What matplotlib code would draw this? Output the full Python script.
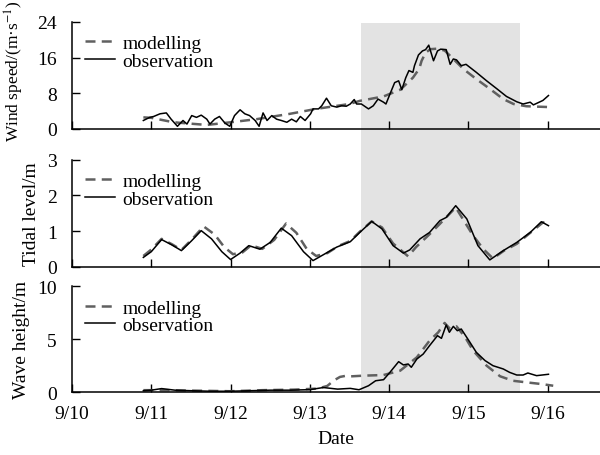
import numpy as np
import matplotlib
matplotlib.use("Agg")
import matplotlib.pyplot as plt
from matplotlib.patches import Rectangle
from matplotlib.transforms import blended_transform_factory

plt.rcParams['font.family'] = ['Liberation Serif', 'DejaVu Serif']
plt.rcParams['mathtext.fontset'] = 'stix'

# x values are day of September (10.0 = 9/10 00:00)
day_labels = ['9/10', '9/11', '9/12', '9/13', '9/14', '9/15', '9/16']
day_ticks = [10, 11, 12, 13, 14, 15, 16]
storm_start, storm_end = 13.64, 15.65

# wind speed
wind_obs_x = [10.90, 10.98, 11.03, 11.11, 11.19, 11.25, 11.33, 11.40, 11.45, 11.51, 11.57,
              11.63, 11.70, 11.74, 11.80, 11.86, 11.93, 11.99, 12.05, 12.12, 12.18, 12.24,
              12.31, 12.36, 12.41, 12.46, 12.52, 12.58, 12.64, 12.71, 12.77, 12.83, 12.88,
              12.94, 13.01, 13.04, 13.11, 13.15, 13.21, 13.27, 13.34, 13.40, 13.46, 13.51,
              13.56, 13.59, 13.65, 13.74, 13.80, 13.86, 13.93, 13.96, 14.01, 14.07, 14.12,
              14.16, 14.21, 14.25, 14.30, 14.32, 14.37, 14.42, 14.46, 14.50, 14.56, 14.61,
              14.65, 14.72, 14.77, 14.81, 14.85, 14.91, 14.97, 15.10, 15.23, 15.36, 15.48,
              15.61, 15.69, 15.78, 15.82, 15.88, 15.94, 16.01]
wind_obs = [1.9, 2.6, 2.8, 3.4, 3.6, 2.2, 0.6, 1.9, 1.1, 3.0, 2.6,
            3.1, 2.2, 1.1, 2.2, 2.8, 1.3, 0.6, 3.0, 4.3, 3.4, 3.0,
            1.9, 0.6, 3.6, 1.9, 3.0, 2.2, 1.9, 1.5, 2.2, 1.6, 2.8,
            1.9, 3.4, 4.5, 4.5, 5.2, 6.9, 5.2, 4.9, 5.2, 5.1, 5.6,
            6.6, 5.6, 5.6, 4.5, 5.2, 6.7, 6.0, 5.6, 7.8, 10.4, 10.8,
            8.8, 11.5, 13.1, 12.7, 14.2, 16.6, 17.5, 17.8, 18.8, 15.3, 17.5,
            17.9, 17.8, 14.5, 15.7, 15.5, 14.2, 14.5, 12.7, 10.8, 9.0, 7.3,
            6.1, 5.6, 6.0, 5.4, 5.9, 6.4, 7.5]
wind_mod_x = [10.90, 11.00, 11.28, 11.70, 12.00, 12.33, 12.75, 13.08, 13.50, 13.63, 13.93,
              14.14, 14.30, 14.38, 14.41, 14.46, 14.52, 14.60, 14.70, 14.77, 14.94, 15.10,
              15.27, 15.44, 15.57, 15.73, 16.03]
wind_mod = [2.6, 2.5, 1.5, 0.9, 1.5, 2.2, 3.4, 4.5, 5.6, 6.3, 7.3,
            8.8, 11.5, 13.5, 15.3, 17.1, 17.9, 18.0, 17.6, 16.4, 13.4, 11.2,
            9.0, 6.7, 5.6, 5.1, 4.9]

# tidal level
tide_obs_x = [10.90, 11.00, 11.13, 11.26, 11.38, 11.51, 11.63, 11.76, 11.89, 12.00, 12.12,
              12.23, 12.37, 12.50, 12.64, 12.77, 12.92, 13.04, 13.19, 13.34, 13.51, 13.63,
              13.78, 13.91, 14.05, 14.18, 14.26, 14.39, 14.51, 14.64, 14.72, 14.84, 14.98,
              15.12, 15.27, 15.44, 15.61, 15.78, 15.92, 16.01]
tide_obs = [0.26, 0.42, 0.76, 0.61, 0.45, 0.73, 1.01, 0.78, 0.42, 0.20, 0.38,
            0.59, 0.49, 0.68, 1.08, 0.87, 0.42, 0.17, 0.36, 0.55, 0.70, 0.96,
            1.27, 1.06, 0.59, 0.38, 0.47, 0.78, 0.96, 1.29, 1.38, 1.71, 1.34,
            0.59, 0.19, 0.45, 0.68, 0.96, 1.26, 1.15]
tide_mod_x = [10.90, 11.00, 11.13, 11.26, 11.38, 11.51, 11.66, 11.80, 11.92, 12.03, 12.15,
              12.26, 12.40, 12.55, 12.70, 12.83, 12.96, 13.08, 13.22, 13.36, 13.51, 13.63,
              13.78, 13.91, 14.05, 14.24, 14.34, 14.51, 14.64, 14.84, 15.06, 15.19, 15.31,
              15.45, 15.61, 15.78, 15.94, 16.01]
tide_mod = [0.30, 0.48, 0.78, 0.63, 0.47, 0.76, 1.13, 0.90, 0.55, 0.35, 0.40,
            0.60, 0.50, 0.75, 1.21, 0.95, 0.50, 0.30, 0.38, 0.58, 0.72, 0.98,
            1.27, 1.10, 0.65, 0.29, 0.55, 0.91, 1.20, 1.66, 0.87, 0.49, 0.23,
            0.45, 0.64, 0.95, 1.24, 1.26]

# wave height
wave_obs_x = [10.90, 11.00, 11.13, 11.30, 11.50, 11.75, 12.00, 12.25, 12.50, 12.75, 13.00,
              13.17, 13.35, 13.51, 13.62, 13.74, 13.83, 13.93, 14.01, 14.12, 14.18, 14.24,
              14.28, 14.35, 14.43, 14.51, 14.61, 14.66, 14.72, 14.76, 14.81, 14.86, 14.91,
              14.96, 15.02, 15.10, 15.21, 15.31, 15.44, 15.52, 15.61, 15.69, 15.75, 15.86,
              16.01]
wave_obs = [0.15, 0.2, 0.35, 0.2, 0.15, 0.1, 0.1, 0.15, 0.2, 0.2, 0.25,
            0.45, 0.3, 0.37, 0.24, 0.62, 1.09, 1.19, 1.88, 2.89, 2.58, 2.67,
            2.36, 3.14, 3.61, 4.4, 5.34, 5.09, 6.35, 5.66, 6.22, 5.81, 5.97,
            5.40, 4.71, 3.77, 2.99, 2.51, 2.20, 1.88, 1.63, 1.63, 1.82, 1.57,
            1.70]
wave_mod_x = [10.90, 11.20, 11.60, 12.00, 12.40, 12.80, 13.10, 13.22, 13.30, 13.38, 13.45,
              13.51, 13.68, 13.93, 14.14, 14.35, 14.51, 14.62, 14.70, 14.77, 14.85, 14.96,
              15.06, 15.23, 15.40, 15.56, 15.73, 15.92, 16.07]
wave_mod = [0.2, 0.2, 0.15, 0.1, 0.2, 0.25, 0.35, 0.6, 1.1, 1.45, 1.55,
            1.5, 1.57, 1.63, 2.04, 3.30, 4.87, 5.66, 6.54, 5.97, 6.22, 5.18,
            3.93, 2.51, 1.51, 1.09, 0.94, 0.78, 0.62]

fig = plt.figure(figsize=(6, 4.56), dpi=100)
left, width = 0.12, 0.88
ax1 = fig.add_axes([left, 0.715, width, 0.2346])
ax2 = fig.add_axes([left, 0.413, width, 0.2346])
ax3 = fig.add_axes([left, 0.1375, width, 0.2325])

panels = [
    (ax1, wind_mod_x, wind_mod, wind_obs_x, wind_obs, 24, [0, 8, 16, 24], 'Wind speed/(m·s$^{-1}$)', 12.5),
    (ax2, tide_mod_x, tide_mod, tide_obs_x, tide_obs, 3, [0, 1, 2, 3], 'Tidal level/m', 14),
    (ax3, wave_mod_x, wave_mod, wave_obs_x, wave_obs, 10, [0, 5, 10], 'Wave height/m', 14),
]

for ax, mx, my, ox, oy, ymax, yt, ylab, yfs in panels:
    ax.set_facecolor('none')
    ax.plot(mx, my, '--', color='#606060', lw=1.8, dashes=(4, 2.5), label='modelling')
    ax.plot(ox, oy, '-', color='black', lw=1.1, label='observation')
    ax.set_xlim(10, 16.66)
    ax.set_ylim(0, ymax)
    ax.set_yticks(yt)
    ax.set_xticks(day_ticks)
    ax.spines['top'].set_visible(False)
    ax.spines['right'].set_visible(False)
    ax.spines['left'].set_linewidth(1.1)
    ax.spines['bottom'].set_linewidth(1.1)
    ax.tick_params(direction='in', length=5.5, width=1.0, labelsize=14)
    ax.tick_params(axis='y', pad=11)
    ax.tick_params(axis='x', pad=9)
    ax.set_ylabel(ylab, fontsize=yfs, labelpad=5)
    ax.legend(loc='upper left', frameon=False, fontsize=14, handlelength=1.55,
              handletextpad=0.4, labelspacing=0.0, borderaxespad=0.5,
              borderpad=0.15)

ax1.set_xticklabels([])
ax2.set_xticklabels([])
ax3.set_xticklabels(day_labels)
ax3.set_xlabel('Date', fontsize=14, labelpad=6)
ax1.yaxis.set_label_coords(-0.088, 0.55)

# storm period shading across all panels
trans = blended_transform_factory(ax3.transData, fig.transFigure)
fig.patches.append(Rectangle((storm_start, 0.136), storm_end - storm_start, 0.947 - 0.136,
                             transform=trans, facecolor='#e3e3e3', edgecolor='none',
                             zorder=-1, figure=fig))

fig.savefig('out.png', dpi=100)
